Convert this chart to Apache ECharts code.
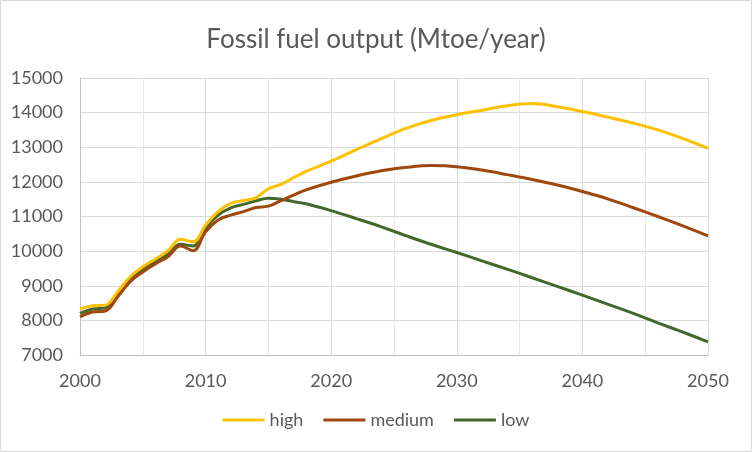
<!DOCTYPE html>
<html>
<head>
<meta charset="utf-8">
<script src="https://cdn.jsdelivr.net/npm/echarts@6/dist/echarts.min.js"></script>
<style>
  html, body { margin: 0; padding: 0; background: #fff; }
  #chart { width: 752px; height: 452px; }
</style>
</head>
<body>
<div id="chart"></div>
<script>
// years (yearly to 2018, then every two years)
var years = [2000, 2001, 2002, 2003, 2004, 2005, 2006, 2007, 2008, 2009,
             2010, 2011, 2012, 2013, 2014, 2015, 2016, 2017, 2018, 2020,
             2022, 2024, 2026, 2028, 2030, 2032, 2034, 2036, 2038, 2040,
             2042, 2044, 2046, 2048, 2050];

var high = [8330, 8420, 8440, 8830, 9260, 9550, 9770, 10010, 10340, 10270,
            10750, 11140, 11380, 11460, 11540, 11800, 11930, 12120, 12300, 12600,
            12930, 13250, 13550, 13780, 13940, 14070, 14200, 14260, 14170, 14030,
            13870, 13700, 13500, 13250, 12970];

var medium = [8100, 8240, 8270, 8680, 9120, 9400, 9630, 9840, 10150, 10010,
              10560, 10900, 11040, 11140, 11260, 11300, 11460, 11620, 11770, 11990,
              12170, 12320, 12420, 12470, 12440, 12340, 12210, 12070, 11910, 11720,
              11510, 11260, 11000, 10730, 10440];

var low = [8200, 8330, 8360, 8760, 9170, 9470, 9700, 9920, 10200, 10150,
           10660, 11040, 11250, 11350, 11450, 11530, 11500, 11430, 11370, 11170,
           10940, 10700, 10440, 10190, 9960, 9720, 9480, 9230, 8980, 8730,
           8470, 8210, 7930, 7660, 7380];

var seriesNames = ['high', 'medium', 'low'];
var seriesColors = ['#FFC000', '#9E480E', '#43682B'];

function pairs(vals) {
    return years.map(function (y, i) { return [y, vals[i]]; });
}

var font = 'Lato, "Open Sans", sans-serif';
var labelColor = '#595959';

var chart = echarts.init(document.getElementById('chart'));

var option = {
    animation: false,
    backgroundColor: '#fff',
    title: {
        text: 'Fossil fuel output (Mtoe/year)',
        left: 'center',
        top: 22,
        textStyle: { fontFamily: font, fontSize: 26, fontWeight: 'normal', color: labelColor }
    },
    graphic: [{
        type: 'rect',
        shape: { x: 0.5, y: 0.5, width: 751, height: 451 },
        style: { fill: 'none', stroke: '#d9d9d9', lineWidth: 1 },
        silent: true
    }],
    legend: {
        bottom: 18,
        left: 'center',
        icon: 'rect',
        itemWidth: 42,
        itemHeight: 3,
        itemGap: 20,
        textStyle: { fontFamily: font, fontSize: 18, color: labelColor },
        data: seriesNames
    },
    grid: { left: 80, right: 44, top: 78, bottom: 97 },
    xAxis: {
        type: 'value',
        min: 2000,
        max: 2050,
        interval: 10,
        axisLine: { show: true, lineStyle: { color: '#bfbfbf', width: 1 } },
        axisTick: { show: false },
        axisLabel: { fontFamily: font, fontSize: 18, color: labelColor, margin: 17,
                     formatter: function (v) { return String(v); } },
        splitLine: { show: true, lineStyle: { color: '#d9d9d9' } },
        minorTick: { show: false, splitNumber: 2 },
        minorSplitLine: { show: true, lineStyle: { color: '#e6e6e6' } }
    },
    yAxis: {
        type: 'value',
        min: 7000,
        max: 15000,
        interval: 1000,
        axisLine: { show: true, lineStyle: { color: '#bfbfbf', width: 1 } },
        axisTick: { show: false },
        axisLabel: { fontFamily: font, fontSize: 18, color: labelColor, margin: 17,
                     formatter: function (v) { return String(v); } },
        splitLine: { show: true, lineStyle: { color: '#d9d9d9' } }
    },
    series: seriesNames.map(function (name, i) {
        return {
            name: name,
            type: 'line',
            smooth: 0.4,
            symbol: 'none',
            color: seriesColors[i],
            lineStyle: { width: 3, color: seriesColors[i] },
            data: pairs([high, medium, low][i]),
            z: 3 - i
        };
    })
};

chart.setOption(option);
</script>
</body>
</html>
